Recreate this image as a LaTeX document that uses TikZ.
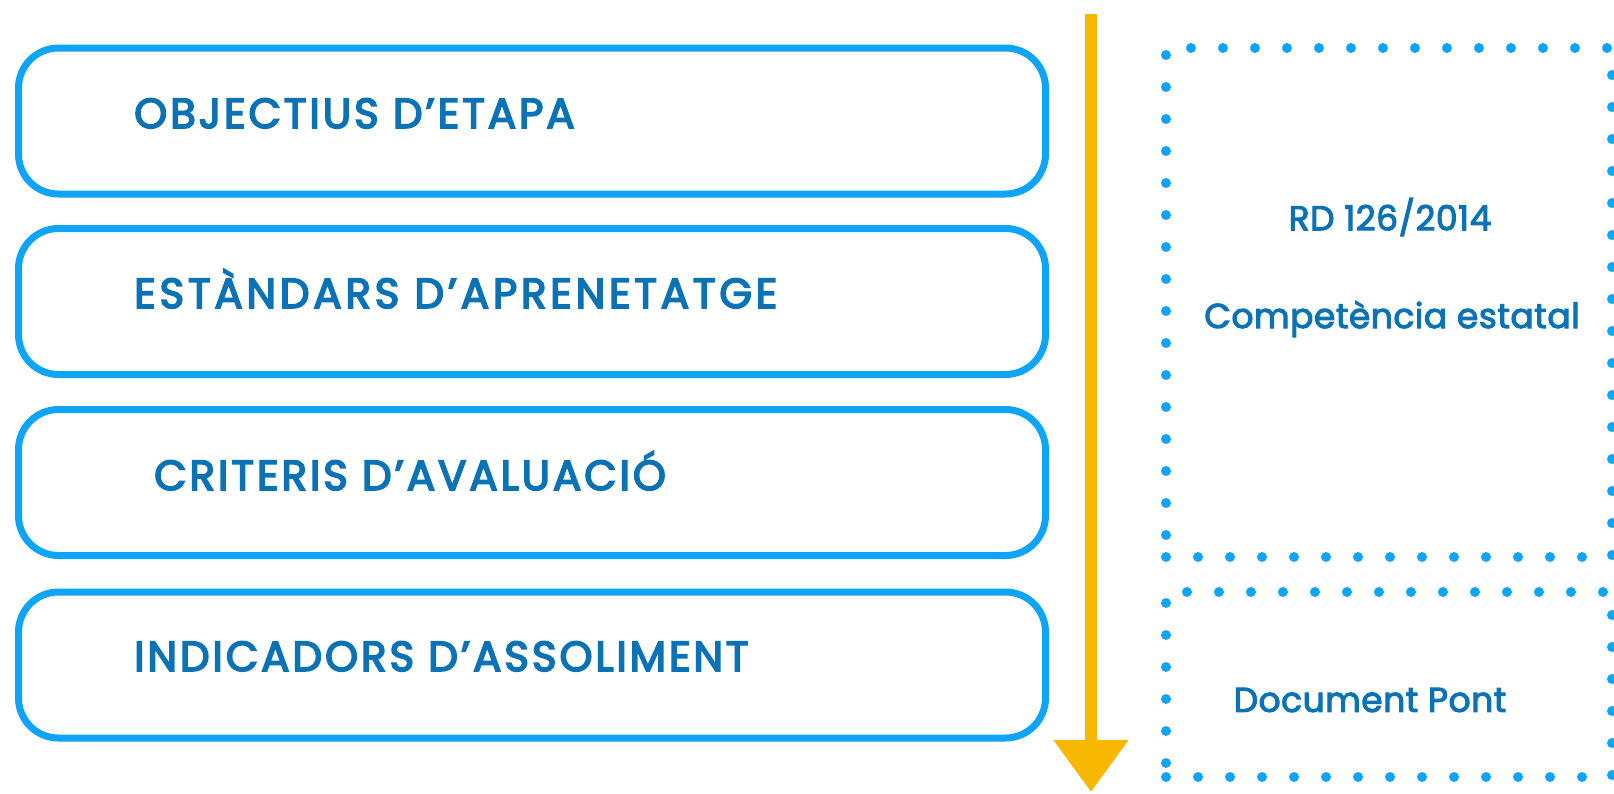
\documentclass[tikz,border=0pt]{standalone}
\usepackage{fontspec}
\setmainfont{Poppins}
\newfontfamily\titlefont{Poppins}[FakeBold=4, LetterSpace=7]
\newfontfamily\titlewidefont{Poppins}[FakeBold=4, LetterSpace=9]
\newfontfamily\sidefont{Poppins}[FakeBold=3, LetterSpace=1.5]
\usetikzlibrary{arrows.meta}
\definecolor{boxblue}{HTML}{0EA5F8}
\definecolor{txtblue}{HTML}{0B72B5}
\definecolor{arrowyellow}{HTML}{F8B700}
\tikzset{
  stagebox/.style={draw=boxblue, line width=7pt, rounded corners=40pt,
    minimum width=1027pt, minimum height=146pt, inner sep=0pt},
  stagetext/.style={anchor=base west, text=txtblue, inner sep=0pt,
    font=\titlefont\fontsize{42}{48}\selectfont},
  dotbox/.style={draw=boxblue, line width=10pt, line cap=round,
    dash pattern=on 0pt off 32pt, inner sep=0pt},
  sidetext/.style={text=txtblue, inner sep=0pt,
    font=\sidefont\fontsize{34.5}{40}\selectfont},
  flowarrow/.style={draw=arrowyellow, line width=12pt,
    -{Triangle[length=52pt,width=72pt]}}
}
\begin{document}
\begin{tikzpicture}[x=1pt,y=-1pt]
\useasboundingbox (0,0) rectangle (1614,793);
% stage boxes
\node[stagebox] (b1) at (532,121) {};
\node[stagebox] (b2) at (532,301.5) {};
\node[stagebox] (b3) at (532,482.5) {};
\node[stagebox] (b4) at (532,665) {};
\node[stagetext] (t1) at (134,128) {OBJECTIUS D’ETAPA};
\node[stagetext, font=\titlewidefont\fontsize{42}{48}\selectfont] (t2) at (134,308) {ESTÀNDARS D’APRENETATGE};
\node[stagetext] (t3) at (154,490) {CRITERIS D’AVALUACIÓ};
\node[stagetext] (t4) at (134,671) {INDICADORS D’ASSOLIMENT};
% arrow
\coordinate (atop) at (1091,14);
\coordinate (abot) at (1091,792);
\draw[flowarrow] (atop) -- (abot);
% dotted boxes
\node[dotbox, minimum width=446pt, minimum height=509pt] (d1) at (1389,302.5) {};
\node[dotbox, minimum width=446pt, minimum height=185pt] (d2) at (1389,684.5) {};
\node[sidetext] (s1) at (1390,217) {RD 126/2014};
\node[sidetext] (s2) at (1392,319) {Competència estatal};
\node[sidetext] (s3) at (1370,700) {Document Pont};
\end{tikzpicture}
\end{document}
